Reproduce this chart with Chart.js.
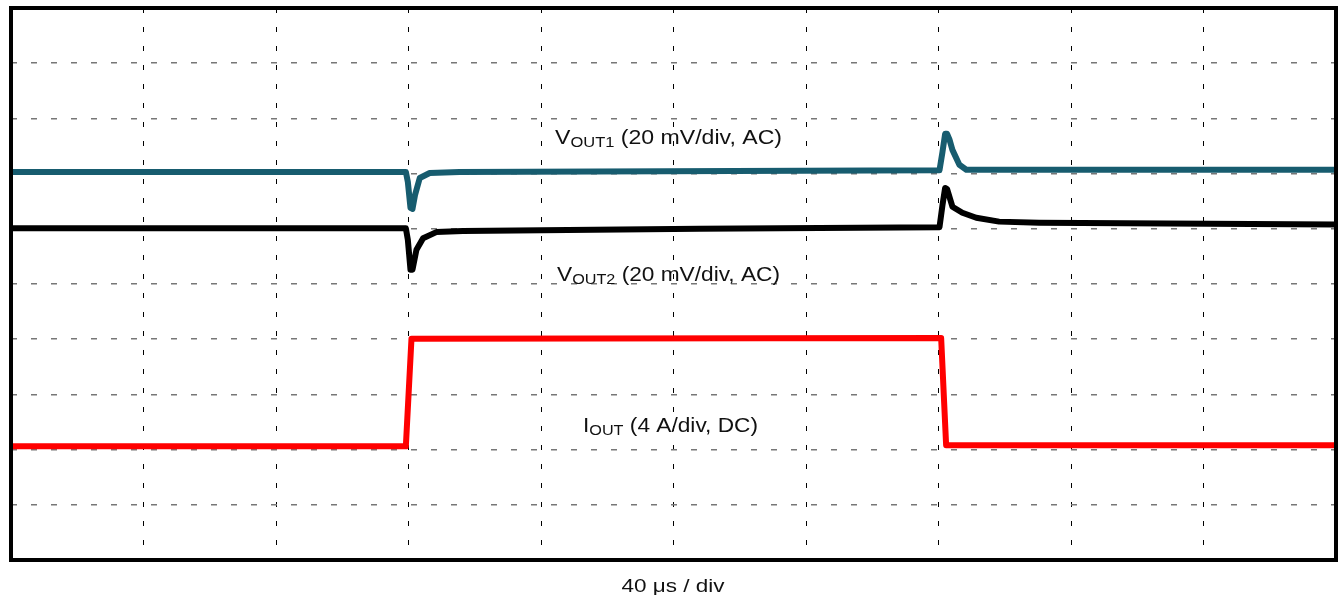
<!DOCTYPE html>
<html>
<head>
<meta charset="utf-8">
<script src="https://cdn.jsdelivr.net/npm/chart.js@4/dist/chart.umd.min.js"></script>
<style>
  html,body{margin:0;padding:0;background:#fff;}
  #wrap{position:relative;width:1340px;height:595px;}
</style>
</head>
<body>
<div id="wrap"><canvas id="scope"></canvas></div>
<script>
// time axis in µs (10 div x 40 µs), vertical axis in divisions (0 = bottom)
const tVout1 = [0, 119.2, 119.8, 120.6, 121.2, 122.0, 123.4, 126.4, 135.4, 280.3, 281.2, 282.0, 282.6, 283.3, 284.2, 286.3, 288.4, 400];
const vVout1 = [7.03, 7.03, 6.85, 6.38, 6.36, 6.62, 6.92, 7.01, 7.03, 7.06, 7.39, 7.72, 7.72, 7.62, 7.43, 7.16, 7.07, 7.07];

const tVout2 = [0, 119.2, 119.8, 120.6, 121.2, 122.4, 124.4, 128.4, 136.4, 207.9, 280.3, 281.2, 282.0, 282.6, 284.2, 287.2, 291.4, 298.3, 310.4, 400];
const vVout2 = [6.01, 6.01, 5.80, 5.26, 5.26, 5.62, 5.83, 5.94, 5.96, 6.00, 6.03, 6.43, 6.74, 6.72, 6.40, 6.29, 6.20, 6.13, 6.11, 6.08];

const tIout = [0, 119.2, 120.9, 280.8, 282.3, 400];
const vIout = [2.06, 2.06, 4.01, 4.02, 2.08, 2.08];

const labelMain = ['V', 'V', 'I'];
const labelSub  = ['OUT1', 'OUT2', 'OUT'];
const labelRest = [' (20 mV/div, AC)', ' (20 mV/div, AC)', ' (4 A/div, DC)'];
const xAxisLabel = '40 \u03bcs / div';

const pts=(ts,vs)=>ts.map((t,i)=>({x:t,y:vs[i]}));

const COLORS={v1:'#175c6f',v2:'#000000',i:'#ff0000'};
// [left, baseline, target width] for each trace label
const LABEL_POS=[[555,144,227],[557,281,223],[583,432,175]];

const FONT="Arial, 'Liberation Sans', sans-serif";

function drawRich(ctx,main,sub,rest,x,y,w){
  ctx.save();
  const mf='21px '+FONT, sf='15px '+FONT;
  ctx.font=mf; const w1=ctx.measureText(main).width, w3=ctx.measureText(rest).width;
  ctx.font=sf; const w2=ctx.measureText(sub).width;
  const sx=w/(w1+w2+w3);
  ctx.translate(x,y); ctx.scale(sx,1);
  ctx.fillStyle='#111'; ctx.textBaseline='alphabetic'; ctx.textAlign='left';
  ctx.font=mf; ctx.fillText(main,0,0);
  ctx.font=sf; ctx.fillText(sub,w1,3);
  ctx.font=mf; ctx.fillText(rest,w1+w2,0);
  ctx.restore();
}

const scopeDeco={
  id:'scopeDeco',
  afterDatasetsDraw(chart){
    const {ctx,chartArea:a}=chart;
    LABEL_POS.forEach((p,i)=>drawRich(ctx,labelMain[i],labelSub[i],labelRest[i],p[0],p[1],p[2]));
    // x label
    ctx.save();
    ctx.font='19px '+FONT;
    const nw=ctx.measureText(xAxisLabel).width, sx=103/nw;
    ctx.translate(673,592); ctx.scale(sx,1);
    ctx.fillStyle='#111'; ctx.textAlign='center'; ctx.textBaseline='alphabetic';
    ctx.fillText(xAxisLabel,0,0);
    ctx.restore();
    // frame
    ctx.save();
    ctx.lineWidth=4; ctx.strokeStyle='#000';
    ctx.strokeRect(a.left,a.top,a.right-a.left,a.bottom-a.top);
    ctx.restore();
  }
};

const trace=(label,ts,vs,color)=>({label,data:pts(ts,vs),borderColor:color,borderWidth:6,pointRadius:0,tension:0,borderJoinStyle:'round',borderCapStyle:'round'});

new Chart(document.getElementById('scope'),{
  type:'line',
  data:{
    datasets:[
      trace('VOUT1',tVout1,vVout1,COLORS.v1),
      trace('VOUT2',tVout2,vVout2,COLORS.v2),
      trace('IOUT',tIout,vIout,COLORS.i)
    ]
  },
  options:{
    responsive:true,maintainAspectRatio:false,animation:false,
    layout:{padding:{left:11,top:8,right:4,bottom:35}},
    plugins:{legend:{display:false},tooltip:{enabled:false}},
    scales:{
      x:{type:'linear',min:0,max:400,
         ticks:{display:false,stepSize:40},
         grid:{color:'#000',lineWidth:1,drawTicks:false,tickLength:0},
         border:{display:false,dash:[5,14]}},
      y:{type:'linear',min:0,max:10,
         ticks:{display:false,stepSize:1},
         grid:{color:'#777',lineWidth:1.5,drawTicks:false,tickLength:0},
         border:{display:false,dash:[6,14]}}
    }
  },
  plugins:[scopeDeco]
});
</script>
</body>
</html>
